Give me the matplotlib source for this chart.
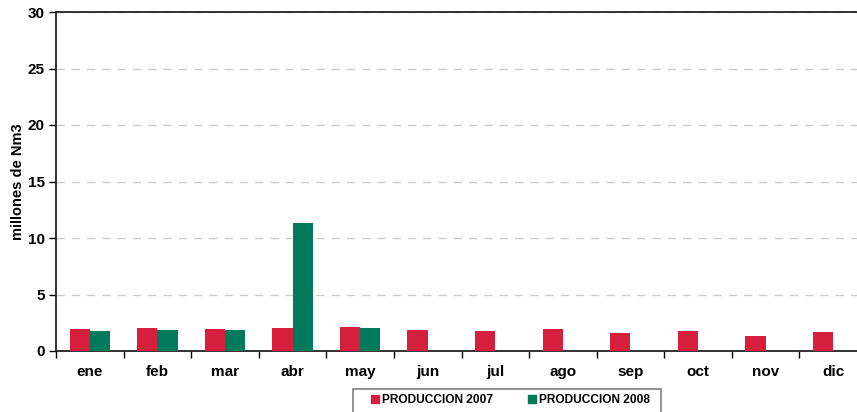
import numpy as np
import matplotlib.pyplot as plt
from matplotlib.patches import Patch, Rectangle

plt.rcParams['font.family'] = ['Liberation Sans', 'DejaVu Sans']
plt.rcParams['font.weight'] = 'bold'

# monthly production, millions of Nm3
meses = ['ene', 'feb', 'mar', 'abr', 'may', 'jun',
         'jul', 'ago', 'sep', 'oct', 'nov', 'dic']
prod_2007 = [1.95, 2.04, 1.95, 2.04, 2.12, 1.86,
             1.77, 1.95, 1.59, 1.77, 1.33, 1.68]
prod_2008 = [1.77, 1.86, 1.86, 11.33, 2.04]

rojo = '#d51f3c'
verde = '#007a5a'

fig = plt.figure(figsize=(8.57, 4.12), dpi=100)
# plot area runs past the right edge of the image
ax = fig.add_axes([56/857, 61/412, 811/857, 339/412])

x = np.arange(len(meses))
w = 0.3
ax.bar(x - w/2, prod_2007, w, color=rojo, zorder=3)
ax.bar(x[:len(prod_2008)] + w/2, prod_2008, w, color=verde, zorder=3)

ax.set_xlim(-0.5, len(meses) - 0.5)
ax.set_ylim(0, 30)
ax.set_yticks(range(0, 31, 5))
ax.set_xticks(x)
ax.set_xticklabels(meses, fontsize=11, fontweight='bold')
ax.set_xticks(np.arange(-0.5, len(meses)), minor=True)
ax.tick_params(axis='x', which='major', length=0, pad=10)
ax.tick_params(axis='x', which='minor', length=5, width=1, direction='out')
ax.tick_params(axis='y', length=5, width=1, labelsize=11, pad=3)
for t in ax.get_yticklabels():
    t.set_fontweight('bold')

ax.grid(axis='y', color='#cccccc', linestyle=(0, (6, 5)), linewidth=1, zorder=0)
ax.spines['right'].set_visible(False)
for s in ['left', 'bottom', 'top']:
    ax.spines[s].set_linewidth(1.3)
    ax.spines[s].set_color('#222222')

ax.set_ylabel('millones de Nm3', fontsize=10.5, fontweight='bold')
ax.yaxis.set_label_coords(-0.038, 0.5)

# legend box, cut by the bottom of the image
fig.patches.append(Rectangle((353/857, -0.05), 308/857, 0.05 + 23/412,
                             transform=fig.transFigure, fill=False,
                             edgecolor='#808080', linewidth=1.2))
handles = [Patch(color=rojo, label='PRODUCCION 2007'),
           Patch(color=verde, label='PRODUCCION 2008')]
leg = fig.legend(handles=handles, ncol=2, loc='center left',
                 bbox_to_anchor=(371/857, 1 - 400/412),
                 fontsize=8.6, frameon=False,
                 handlelength=0.7, handleheight=0.7, handletextpad=0.25,
                 columnspacing=2.9, borderpad=0, borderaxespad=0)
for t in leg.get_texts():
    t.set_fontweight('bold')

plt.savefig('out.png', dpi=100)
